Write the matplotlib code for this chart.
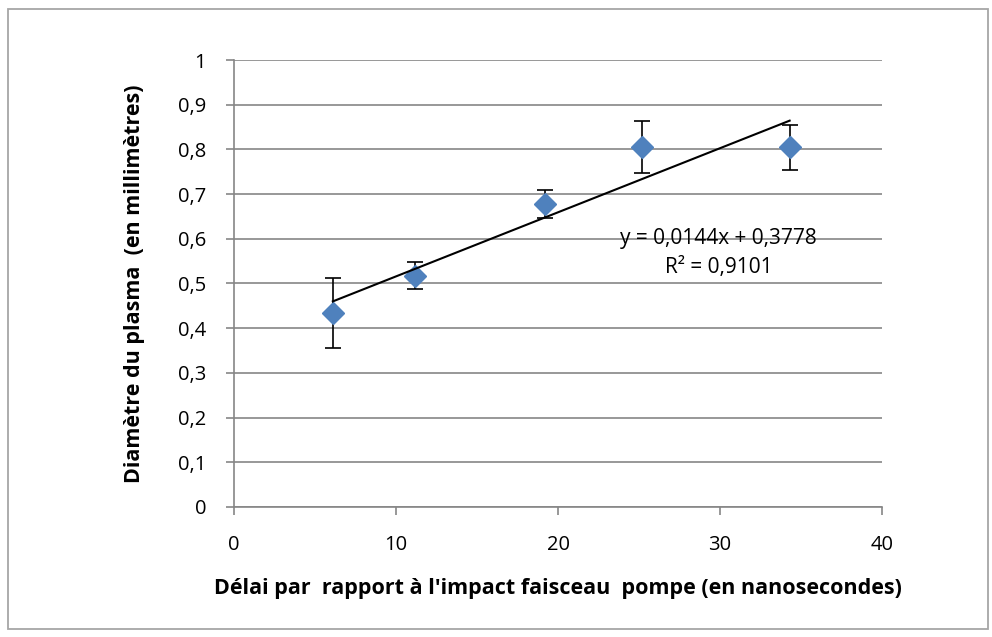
import numpy as np
import matplotlib.pyplot as plt
from matplotlib.patches import Rectangle
from matplotlib.ticker import FuncFormatter

# Mesures : délai (ns), diamètre (mm), barres d'erreur (mm)
delai = [6.1, 11.2, 19.2, 25.2, 34.3]
diametre = [0.434, 0.517, 0.678, 0.805, 0.805]
erreur = [0.079, 0.03, 0.031, 0.058, 0.05]

eq_text = "y = 0,0144x + 0,3778"
r2_text = "R² = 0,9101"

plt.rcParams['font.family'] = ['Open Sans', 'DejaVu Sans']

fig = plt.figure(figsize=(9.92, 6.37), dpi=100)
ax = fig.add_axes([0.2359, 0.2041, 0.6532, 0.7017])

# cadre extérieur du graphique
fig.patches.append(Rectangle((8 / 992, 8 / 637), 980 / 992, 620 / 637,
                             transform=fig.transFigure, fill=False,
                             edgecolor='#a6a6a6', linewidth=1.3))

gray = '#868686'
ax.errorbar(delai, diametre, yerr=erreur, fmt='none', ecolor='black',
            elinewidth=1.2, capsize=6, capthick=1.2, zorder=3)
ax.plot(delai, diametre, linestyle='none', marker='D', markersize=11,
        color='#4f81bd', zorder=4)

# courbe de tendance linéaire
a, b = np.polyfit(delai, diametre, 1)
xs = np.array([min(delai), max(delai)])
ax.plot(xs, a * xs + b, color='black', linewidth=1.5, zorder=5)

ax.text(29.9, 0.6, eq_text, ha='center', va='center', fontsize=15)
ax.text(29.9, 0.535, r2_text, ha='center', va='center', fontsize=15)


def virgule(v, pos):
    if abs(v) < 1e-9 or abs(v - 1) < 1e-9:
        return str(int(round(v)))
    return f"{v:.1f}".replace('.', ',')


ax.set_xlim(0, 40)
ax.set_ylim(0, 1)
ax.set_xticks(range(0, 41, 10))
ax.set_yticks(np.arange(0, 1.01, 0.1))
ax.yaxis.set_major_formatter(FuncFormatter(virgule))

ax.grid(axis='y', color=gray, linewidth=1.2)
ax.set_axisbelow(True)
for s in ['top', 'right']:
    ax.spines[s].set_visible(False)
for s in ['left', 'bottom']:
    ax.spines[s].set_color(gray)
    ax.spines[s].set_linewidth(1.2)
ax.tick_params(axis='both', colors=gray, length=6, width=1.2, labelsize=14.5,
               labelcolor='black')
ax.tick_params(axis='x', pad=14)
ax.tick_params(axis='y', pad=14)

ax.set_xlabel("Délai par  rapport à l'impact faisceau  pompe (en nanosecondes)",
              fontsize=15.5, fontweight='bold', labelpad=17)
ax.set_ylabel("Diamètre du plasma  (en millimètres)", fontsize=15.5,
              fontweight='bold', labelpad=24)

fig.savefig('out.png', dpi=100)
